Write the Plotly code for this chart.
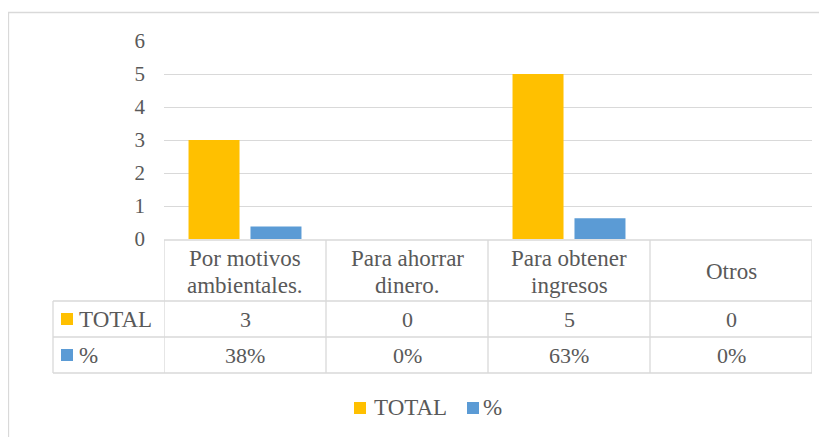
import plotly.graph_objects as go

categories = ["Por motivos<br>ambientales.", "Para ahorrar<br>dinero.", "Para obtener<br>ingresos", "Otros"]
series_names = ["TOTAL", "%"]
total = [3, 0, 5, 0]
pct = [0.38, 0, 0.63, 0]
y_ticks = [0, 1, 2, 3, 4, 5, 6]

gold = "#FFC000"
blue = "#5B9BD5"
grid = "#D9D9D9"
txt = "#595959"
font = "Liberation Serif, Times New Roman, serif"
fs_text = 23
fs_num = 22

# page has an 8px body margin; figure origin sits at (8, 8) in the window
OFF = 8
W, H = 827 - OFF, 437 - OFF
L, R, T, B = 164 - OFF, 812 - OFF, 41 - OFF, 239 - OFF


def px(x):
    return (x - OFF - L) / (R - L)


def py(y):
    return (B - (y - OFF)) / (B - T)


fig = go.Figure()
fig.add_trace(go.Bar(x=categories, y=total, name=series_names[0], marker=dict(color=gold, line=dict(width=0))))
fig.add_trace(go.Bar(x=categories, y=pct, name=series_names[1], marker=dict(color=blue, line=dict(width=0))))

shapes = []
line = dict(color=grid, width=1.3)
# outer chart border
shapes.append(dict(type="rect", xref="paper", yref="paper", x0=px(8.5), x1=px(840), y0=py(12.5), y1=py(450),
                   line=dict(color=grid, width=1.3), layer="below"))
# table horizontal lines
shapes.append(dict(type="line", xref="paper", yref="paper", x0=px(164), x1=px(812), y0=py(240), y1=py(240), line=line))
for yy in [301, 337, 373]:
    shapes.append(dict(type="line", xref="paper", yref="paper", x0=px(53), x1=px(812), y0=py(yy), y1=py(yy), line=line))
# table vertical lines
shapes.append(dict(type="line", xref="paper", yref="paper", x0=px(53), x1=px(53), y0=py(301), y1=py(373), line=line))
for i in range(len(categories) + 1):
    shapes.append(dict(type="line", xref="x", yref="paper", x0=i - 0.5, x1=i - 0.5, y0=py(240), y1=py(373), line=line))

annotations = []
row_y = [319, 355]
colors = [gold, blue]
row_vals = [[str(v) for v in total], [f"{round(v * 100)}%" for v in pct]]
tf = dict(family=font, size=fs_text, color=txt)
nf = dict(family=font, size=fs_num, color=txt)
for i, c in enumerate(categories):
    parts = c.split("<br>")
    if len(parts) == 1:
        ys = [271]
    else:
        ys = [258, 285]
    for part, yy in zip(parts, ys):
        annotations.append(dict(x=c, xref="x", y=py(yy), yref="paper", text=part, showarrow=False,
                                font=tf, xanchor="center", yanchor="middle"))
    for r in range(2):
        annotations.append(dict(x=c, xref="x", y=py(row_y[r]), yref="paper", text=row_vals[r][i], showarrow=False,
                                font=nf, xanchor="center", yanchor="middle"))
# table row keys
for r in range(2):
    shapes.append(dict(type="rect", xref="paper", yref="paper", x0=px(61), x1=px(73), y0=py(row_y[r] - 6),
                       y1=py(row_y[r] + 6), fillcolor=colors[r], line=dict(width=0)))
    annotations.append(dict(x=px(77), xref="paper", y=py(row_y[r]), yref="paper", text=series_names[r],
                            showarrow=False, font=tf, xanchor="left", yanchor="middle"))
# bottom legend
leg = [(354, 372), (467, 481)]
for r in range(2):
    sx, tx = leg[r]
    shapes.append(dict(type="rect", xref="paper", yref="paper", x0=px(sx), x1=px(sx + 12), y0=py(408 - 6),
                       y1=py(408 + 6), fillcolor=colors[r], line=dict(width=0)))
    annotations.append(dict(x=px(tx), xref="paper", y=py(408), yref="paper", text=series_names[r],
                            showarrow=False, font=tf, xanchor="left", yanchor="middle"))

fig.update_layout(
    width=W, height=H,
    margin=dict(l=L, r=W - R, t=T, b=H - B, pad=0),
    paper_bgcolor="white", plot_bgcolor="white",
    barmode="group", bargap=0.235, bargroupgap=0.177,
    showlegend=False,
    font=dict(family=font, color=txt),
    shapes=shapes, annotations=annotations,
    xaxis=dict(type="category", range=[-0.5, 3.5], showticklabels=False, showgrid=False, zeroline=False,
               showline=False, ticks=""),
    yaxis=dict(range=[0, 6], tickvals=y_ticks, showgrid=True, gridcolor=grid, gridwidth=1.3, zeroline=False,
               showline=False, ticks="", ticklabelstandoff=18,
               tickfont=dict(family=font, size=21, color=txt)),
)

fig.write_html("out.html")
